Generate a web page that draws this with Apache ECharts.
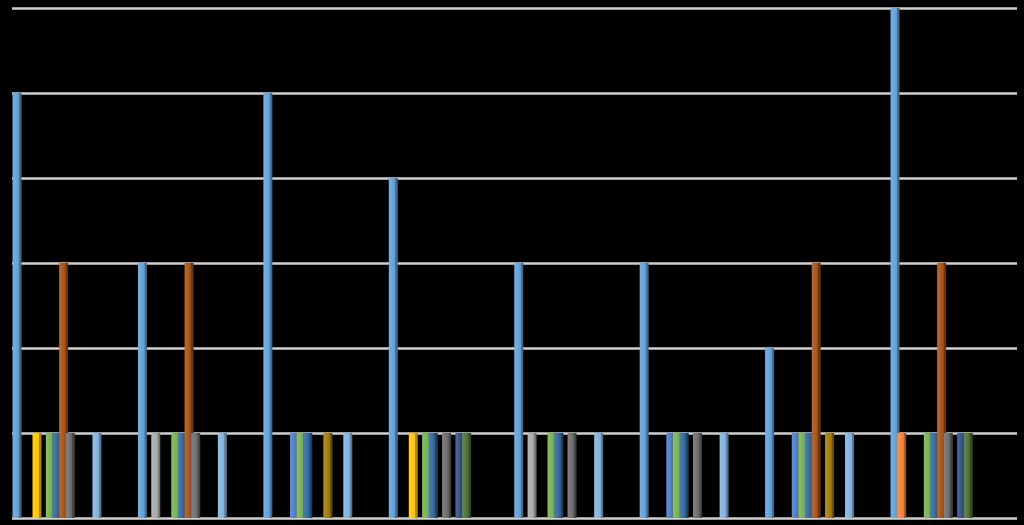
<!DOCTYPE html>
<html>
<head>
<meta charset="utf-8">
<script src="https://cdn.jsdelivr.net/npm/echarts@6/dist/echarts.min.js"></script>
<style>
html, body { margin: 0; padding: 0; background: #000; }
#chart { width: 1024px; height: 525px; }
</style>
</head>
<body>
<div id="chart"></div>
<script>
var categories = ['1', '2', '3', '4', '5', '6', '7', '8'];
var seriesNames = ['S1', 'S2', 'S3', 'S4', 'S5', 'S6', 'S7', 'S8', 'S9', 'S10', 'S11', 'S12', 'S13'];
var seriesColors = ['#5B9BD5', '#ED7D31', '#A5A5A5', '#FFC000', '#4472C4', '#70AD47',
	'#255E91', '#9E480E', '#636363', '#997300', '#264478', '#43682B', '#7CAFDD'];
var seriesValues = [
	[5, 3, 5, 4, 3, 3, 2, 6],
	[0, 0, 0, 0, 0, 0, 0, 1],
	[0, 1, 0, 0, 1, 0, 0, 0],
	[1, 0, 0, 1, 0, 0, 0, 0],
	[0, 0, 1, 0, 0, 1, 1, 0],
	[1, 1, 1, 1, 1, 1, 1, 1],
	[1, 1, 1, 1, 1, 1, 1, 1],
	[3, 3, 0, 0, 0, 0, 3, 3],
	[1, 1, 0, 1, 1, 1, 0, 1],
	[0, 0, 1, 0, 0, 0, 1, 0],
	[0, 0, 0, 1, 0, 0, 0, 1],
	[0, 0, 0, 1, 0, 0, 0, 1],
	[1, 1, 1, 0, 1, 1, 1, 0]
];
var yTicks = [0, 1, 2, 3, 4, 5, 6];

// mix a hex colour toward white (amt > 0) or black (amt < 0)
function shade(hex, amt) {
	var n = parseInt(hex.slice(1), 16);
	var c = [(n >> 16) & 255, (n >> 8) & 255, n & 255].map(function(v) {
		return Math.round(amt > 0 ? v + (255 - v) * amt : v * (1 + amt));
	});
	return 'rgb(' + c.join(',') + ')';
}

var myChart = echarts.init(document.getElementById('chart'));

var series = [];
for (var i = 0; i < seriesNames.length; i++) {
	var base = seriesColors[i];
	series.push({
		name : seriesNames[i],
		type : 'bar',
		xAxisIndex : 1,
		yAxisIndex : 1,
		clip : false,
		barWidth : 9,
		barGap : '-26%',
		itemStyle : {
			color : new echarts.graphic.LinearGradient(0, 0, 1, 0, [
				{ offset : 0, color : shade(base, 0.2) },
				{ offset : 0.45, color : shade(base, 0.1) },
				{ offset : 0.72, color : base },
				{ offset : 0.74, color : shade(base, -0.25) },
				{ offset : 1, color : shade(base, -0.35) }
			])
		},
		data : seriesValues[i]
	});
}

var option = {
	backgroundColor : '#000',
	animation : false,
	grid : [
		{ left : 12, right : 7, top : 8, bottom : 7 },
		// bar grid: one group centred on each tick
		{ left : 57, width : 878, top : 8, bottom : 7 }
	],
	xAxis : [ {
		gridIndex : 0,
		type : 'category',
		data : categories,
		axisLine : { show : false },
		axisTick : { show : false },
		axisLabel : { show : false }
	}, {
		gridIndex : 1,
		type : 'category',
		boundaryGap : false,
		data : categories,
		axisLine : { show : false },
		axisTick : { show : false },
		axisLabel : { show : false }
	} ],
	yAxis : [ {
		gridIndex : 0,
		type : 'value',
		min : yTicks[0],
		max : yTicks[yTicks.length - 1],
		interval : 1,
		axisLine : { show : false },
		axisTick : { show : false },
		axisLabel : { show : false },
		splitLine : {
			show : true,
			lineStyle : { color : '#d0d0d0', width : 2.5 }
		}
	}, {
		gridIndex : 1,
		type : 'value',
		min : yTicks[0],
		max : yTicks[yTicks.length - 1],
		interval : 1,
		axisLine : { show : false },
		axisTick : { show : false },
		axisLabel : { show : false },
		splitLine : { show : false }
	} ],
	series : series
};
myChart.setOption(option);
</script>
</body>
</html>
